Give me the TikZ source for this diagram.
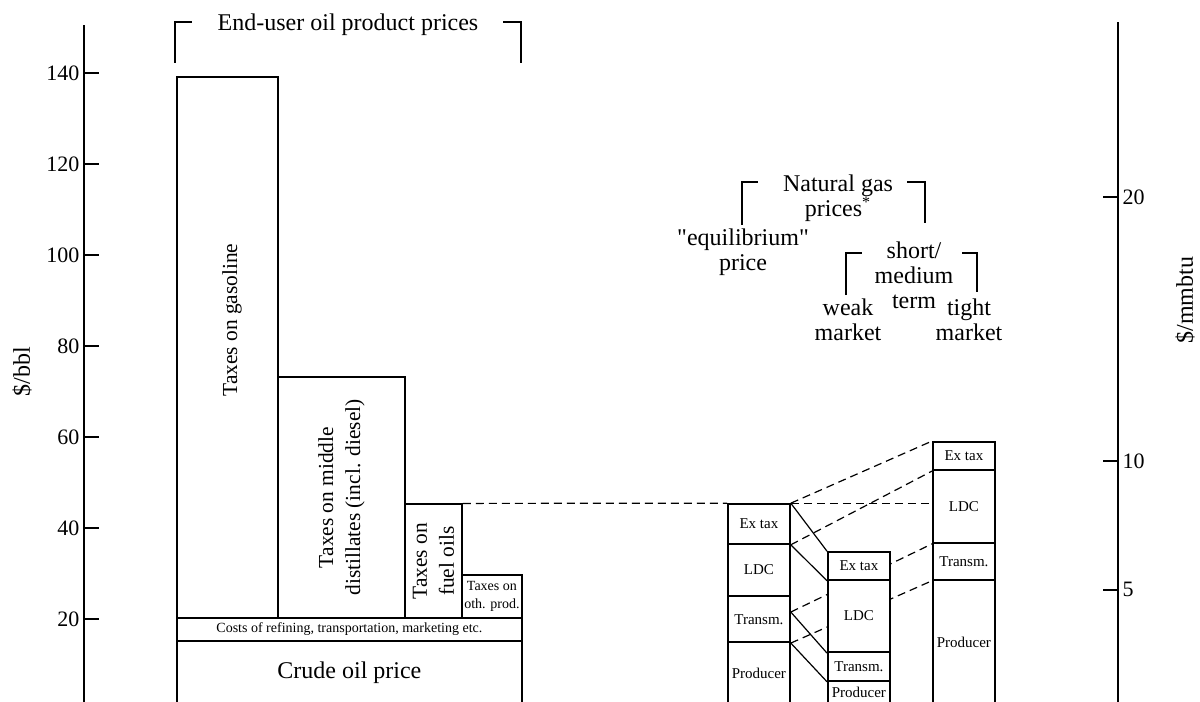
\documentclass[tikz,border=0pt]{standalone}
\usepackage{fontspec}
\setmainfont{Liberation Serif}[Ligatures=TeXOff]
\usetikzlibrary{calc,backgrounds}

\tikzset{
  box/.style 2 args={draw, fill=white, line width=0.9pt, inner sep=0pt, anchor=south west,
    minimum width={(#1)*0.5pt}, minimum height={(#2)*2.275pt}},
  seg/.style={box={62}{#1}, font=\fontsize{7.5}{8}\selectfont},
  axtick/.style={line width=0.7pt},
  link/.style={line width=0.6pt},
  gaslink/.style={link, dash pattern=on 4pt off 2.5pt},
  bkt/.style={line width=0.7pt},
  gastitle/.style={font=\fontsize{12}{12.5}\selectfont, align=center, inner sep=0pt},
  taxlbl/.style={rotate=90, font=\fontsize{10.7}{13.5}\selectfont, align=center, inner sep=0pt},
  small/.style={font=\fontsize{7}{9}\selectfont, align=center}
}

\begin{document}
\begin{tikzpicture}[x=0.5pt, y=2.275pt]
\useasboundingbox (0,1.76) rectangle (1200,156.04);
\clip (0,1.76) rectangle (1200,156.04);

% axes
\draw[line width=0.8pt] (84,0) -- (84,150.5);
\draw[line width=0.8pt] (1118,0) -- (1118,151.2);
\foreach \v in {20,40,...,140}
  \draw[axtick] (84,\v) -- (99,\v)
    node[pos=0, anchor=east, inner sep=2pt, font=\fontsize{11}{12}\selectfont] (l\v) {\v};
\foreach \v/\t in {112.7/20, 54.7/10, 26.4/5}
  \draw[axtick] (1103,\v) -- (1118,\v)
    node[anchor=west, inner sep=2pt, font=\fontsize{11}{12}\selectfont] (r\t) {\t};
\node[rotate=90, font=\fontsize{12}{13}\selectfont] (unitBbl) at (22,74.3) {\$/bbl};
\node[rotate=90, font=\fontsize{12}{13}\selectfont] (unitBtu) at (1185,90.1) {\$/mmbtu};

% oil product prices
\node[box={345}{14}, font=\fontsize{12}{13}\selectfont] (crude) at (176,1) {Crude oil price};
\node[box={345}{5}, small] (costs) at (176,15) {Costs of refining, transportation, marketing etc.};
\node[box={101}{119}] (gasoline) at (176,20) {};
\node[box={127}{53}] (middle) at (277,20) {};
\node[box={57}{25}] (fuel) at (404,20) {};
\node[box={60}{9.5}, small] (other) at (461,20) {Taxes on\\oth. prod.};
\node[taxlbl] (gasolineLbl) at (232,85.7) {Taxes on gasoline};
\node[taxlbl] (middleLbl) at (middle.center) {Taxes on middle\\distillates (incl. diesel)};
\node[taxlbl] (fuelLbl) at (fuel.center) {Taxes on\\fuel oils};

\node[gastitle] (endUser) at (348,150.5) {End-user oil product prices};
\draw[bkt] (175,142.2) |- (192,151.2);
\draw[bkt] (503,151.2) -| (521,142.2);

% natural gas prices
\foreach \c/\xl/\yp/\yt/\yl/\ye in {1/727/14.7/24.8/36.3/45.05,
                                  2/827/6.2/12.5/28.4/34.5,
                                  3/932/28.4/36.5/52.5/58.7}{
  \node[seg={\yp-1}] (pr\c) at (\xl,1) {Producer};
  \node[seg={\yt-\yp}] (tr\c) at (\xl,\yp) {Transm.};
  \node[seg={\yl-\yt}] (ldc\c) at (\xl,\yt) {LDC};
  \node[seg={\ye-\yl}] (ex\c) at (\xl,\yl) {Ex tax};
}
\coordinate (tj) at ($(tr1.north east)!0.35!(tr1.south east)$);

\begin{pgfonlayer}{background}
\draw[gaslink] (fuel.north east) -- (ex1.north west);
\draw[gaslink] (ex1.north east) -- (ex1.north east -| ldc3.west);
\draw[gaslink] (ex1.north east) -- (ex3.north west);
\draw[gaslink] (ex1.south east) -- (ex3.south west);
\draw[gaslink] (tj) -- (ldc3.south west);
\draw[gaslink] (tr1.south east) -- (tr3.south west);
\draw[link] (ex1.north east) -- (ex2.north west);
\draw[link] (ex1.south east) -- (ex2.south west);
\draw[link] (tj) -- (ldc2.south west);
\draw[link] (tr1.south east) -- (tr2.south west);
\end{pgfonlayer}

\node[gastitle] (gasTitle) at (838,112.5) {Natural gas\\prices\textsuperscript{*}};
\draw[bkt] (742,106.6) |- (758,116.0);
\draw[bkt] (907,116.0) -| (925,107.0);
\node[gastitle] (equil) at (743,100.7) {"equilibrium"\\price};
\node[gastitle] (shortTerm) at (914,95.6) {short/\\medium\\term};
\draw[bkt] (846,91.2) |- (862,100.4);
\draw[bkt] (962,100.4) -| (977,91.9);
\node[gastitle] (weak) at (848,85.7) {weak\\market};
\node[gastitle] (tight) at (969,85.7) {tight\\market};
\end{tikzpicture}
\end{document}
